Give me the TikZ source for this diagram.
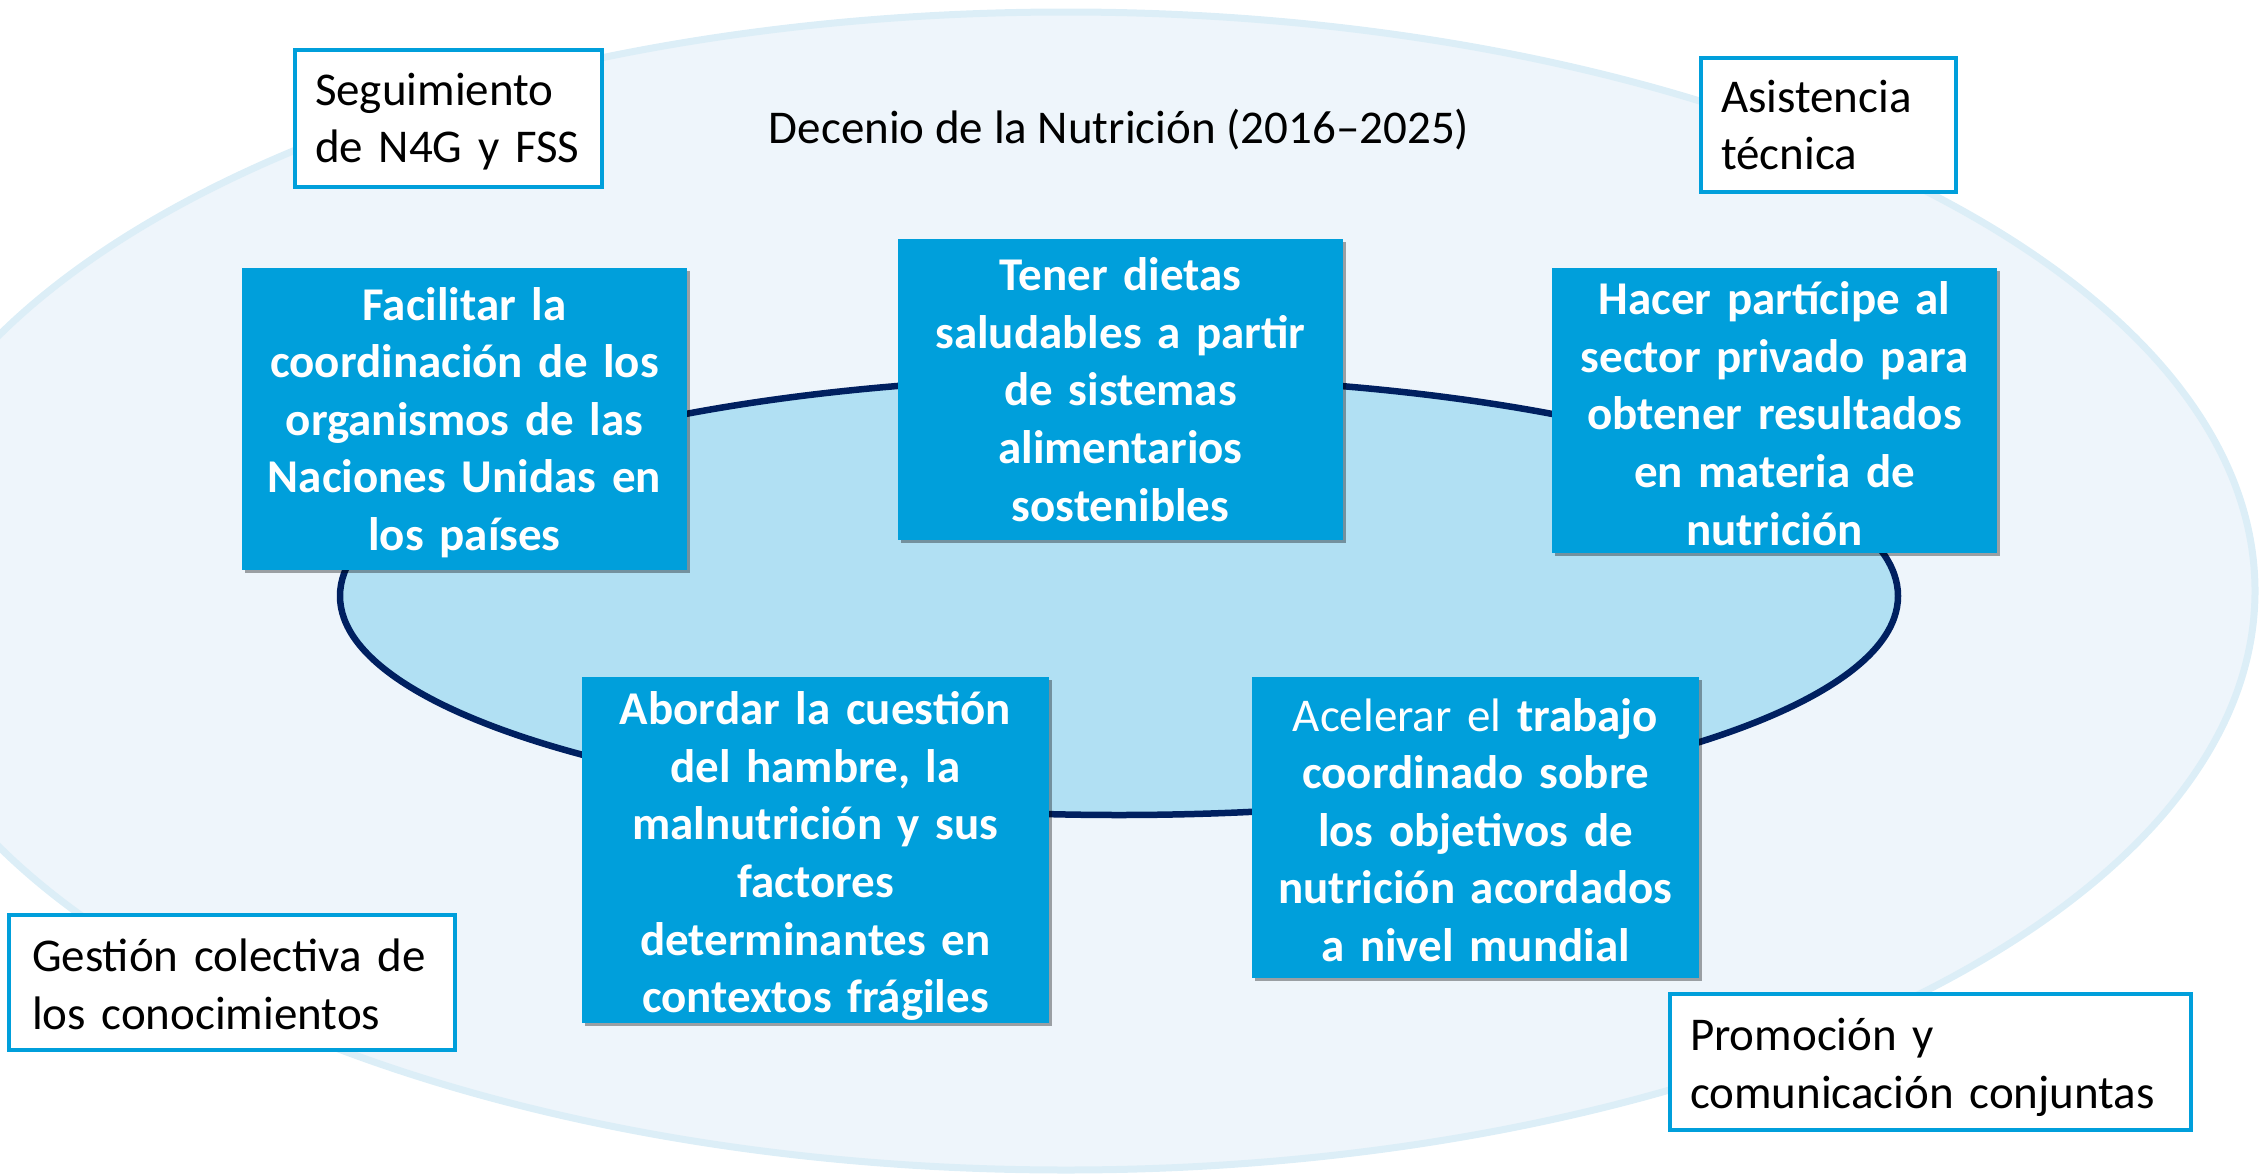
\documentclass[tikz,border=0pt]{standalone}
\usepackage{fontspec}
\setmainfont{Carlito}
\usetikzlibrary{shadows}
\definecolor{outerfill}{HTML}{EEF5FB}
\definecolor{outerline}{HTML}{DCEEF7}
\definecolor{innerfill}{HTML}{B1E0F3}
\definecolor{navy}{HTML}{002060}
\definecolor{boxblue}{HTML}{009FDB}
\tikzset{
  bluebox/.style={fill=boxblue, text=white, font=\bfseries\fontsize{47}{57.6}\selectfont,
    align=center, inner sep=8pt,
    drop shadow={shadow xshift=3pt, shadow yshift=-3pt, opacity=0.35, fill=black}},
  whitebox/.style={draw=boxblue, line width=4.5pt, fill=white, text=black,
    font=\fontsize{47}{57.6}\selectfont, align=left, inner xsep=20pt, inner ysep=0pt},
  firstbase/.style={text height=0pt, text depth=#1},
}
\begin{document}
\begin{tikzpicture}[x=1pt,y=-1pt]
\useasboundingbox (0,0) rectangle (2259,1175);
\begin{scope}
\clip (0,0) rectangle (2259,1175);
\draw[fill=outerfill, draw=outerline, line width=7pt] (1066,591) ellipse [x radius=1189, y radius=579];
\end{scope}
\draw[fill=innerfill, draw=navy, line width=6.5pt] (1119,596) ellipse [x radius=779, y radius=219];

\node[font=\fontsize{47}{57.6}\selectfont] (title) at (1119,130) {Decenio de la Nutrición (2016–2025)};

\node[whitebox, text width=267pt, minimum height=137pt, firstbase=27pt] (seg) at (448.5,118.5) {Seguimiento\\de N4G y FSS};
\node[whitebox, text width=215pt, minimum height=134pt, firstbase=26pt] (asi) at (1828.5,125) {Asistencia\\técnica};
\node[whitebox, text width=400pt, minimum height=135pt, inner xsep=23pt, firstbase=21.6pt] (ges) at (232,982.5) {Gestión colectiva de\\los conocimientos};
\node[whitebox, text width=481pt, minimum height=136pt, firstbase=22.5pt] (pro) at (1930.5,1062) {Promoción y\\comunicación conjuntas};

\node[bluebox, text width=429pt, minimum height=302pt, firstbase=198pt] (fac) at (464.5,419) {Facilitar la\\coordinación de los\\organismos de las\\Naciones Unidas en\\los países};
\node[bluebox, text width=429pt, minimum height=301pt, firstbase=197.5pt] (ten) at (1120.5,389.5) {Tener dietas\\saludables a partir\\de sistemas\\alimentarios\\sostenibles};
\node[bluebox, text width=429pt, minimum height=285pt, firstbase=191.8pt] (hac) at (1774.5,410.5) {Hacer partícipe al\\sector privado para\\obtener resultados\\en materia de\\nutrición};
\node[bluebox, text width=451pt, minimum height=346pt, firstbase=250.8pt] (abo) at (815.5,850) {Abordar la cuestión\\del hambre, la\\malnutrición y sus\\factores\\determinantes en\\contextos frágiles};
\node[bluebox, text width=431pt, minimum height=301pt, firstbase=193pt] (ace) at (1475.5,827.5) {{\mdseries Acelerar el} trabajo\\coordinado sobre\\los objetivos de\\nutrición acordados\\a nivel mundial};
\end{tikzpicture}
\end{document}
